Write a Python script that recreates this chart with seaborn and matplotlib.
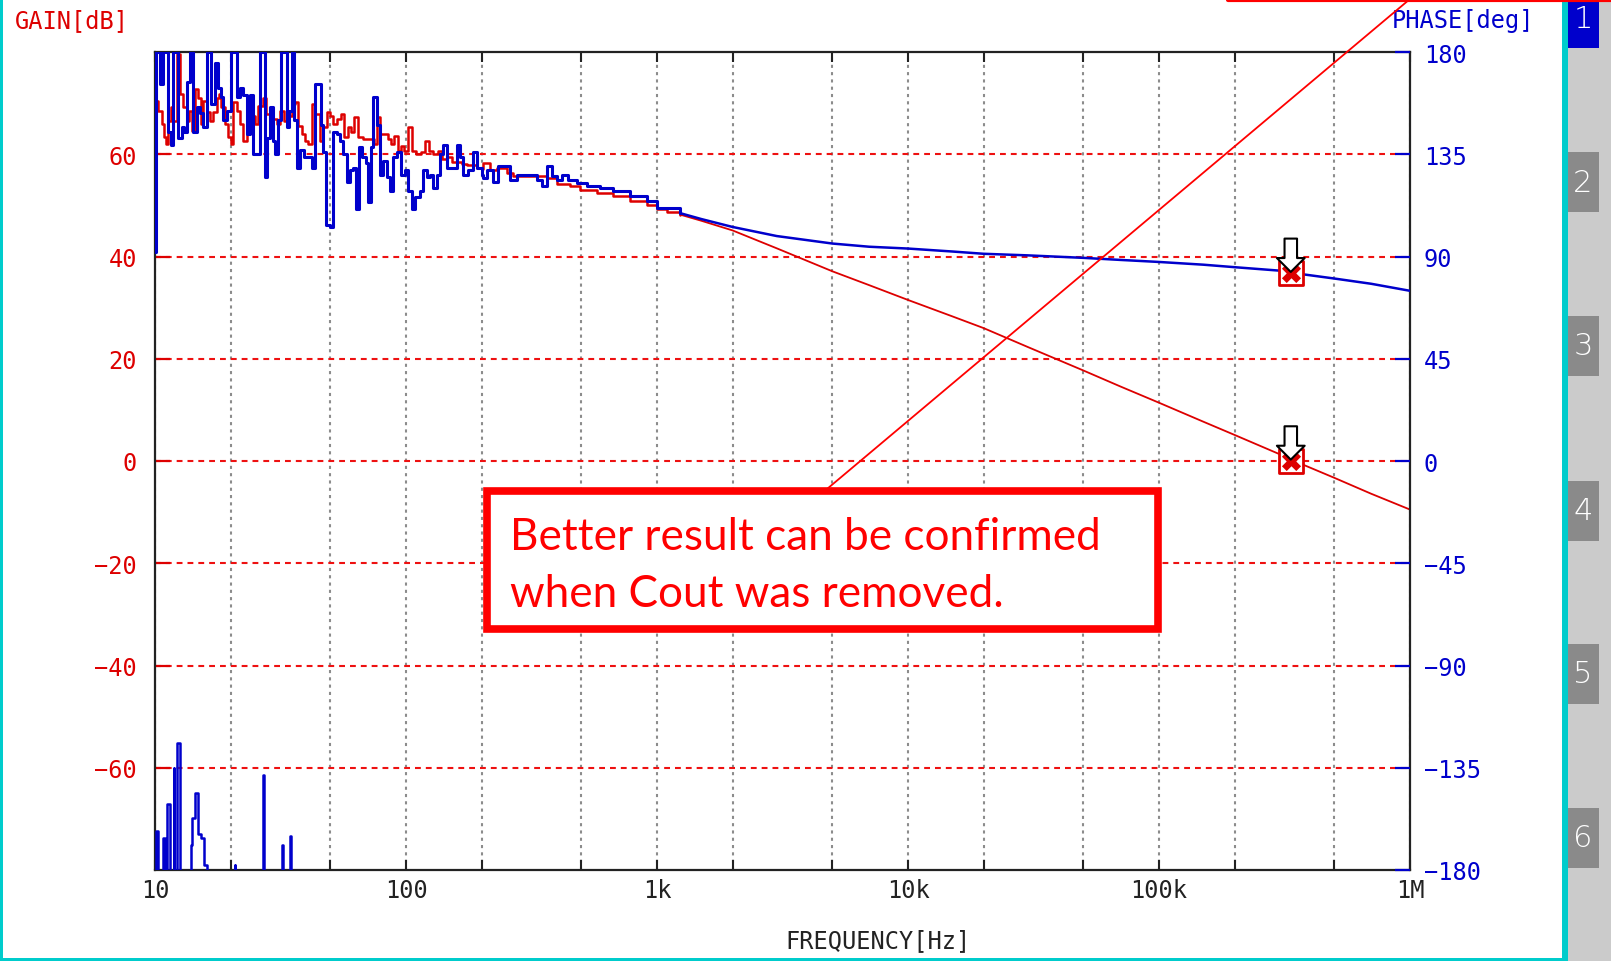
import matplotlib
matplotlib.use("Agg")
import matplotlib.pyplot as plt
from matplotlib.patches import Rectangle
from matplotlib.lines import Line2D
import seaborn as sns

# --- values ---
# gain trace (red, left axis), noisy low-frequency part
gain_freq_lo = [10.0, 10.31, 10.63, 10.86, 11.06, 11.30, 11.55, 11.76, 12.2, 12.58,
                12.97, 13.37, 13.7, 14.0, 14.43, 14.88, 15.2, 15.57, 16.06, 16.55,
                17.07, 17.6, 18.0, 18.4, 19.0, 19.6, 20.0, 20.5, 21.2, 21.8,
                22.5, 23.2, 23.9, 25.0, 25.8, 27.0, 27.8, 28.7, 29.6, 30.5,
                31.6, 32.6, 34.0, 35.0, 36.1, 37.2, 38.4, 39.6, 40.8, 42.1,
                43.4, 45.4, 46.8, 48.3, 49.8, 51.3, 52.9, 55.1, 56.8, 58.5,
                60.4, 62.2, 64.1, 67.5, 71.9, 74.8, 76.6, 79.0, 82.0, 84.5,
                87.1, 89.8, 92.6, 95.5, 98.5, 102.2, 105.4, 109.2, 114.5, 119.1,
                123.5, 128.6, 134.0, 139.0, 145.5, 152.3, 159.3, 166.7, 174.5, 182.7,
                191.3, 200.2, 203.3, 216.1, 229.8, 251.8, 267.7, 311.9, 363.5, 398.5,
                450.2, 493.4, 575.0, 669.9, 780.4, 909.5, 997.0, 1093.0, 1235.0]
gain_db_lo = [70.5, 68.5, 65.9, 63.3, 62.0, 66.6, 69.2, 66.6, 79.6, 71.8,
              69.2, 66.6, 68.5, 64.6, 72.8, 71.1, 65.9, 70.5, 68.2, 66.6,
              68.2, 71.1, 71.8, 69.2, 65.9, 63.3, 62.0, 70.2, 68.5, 65.9,
              62.6, 64.6, 67.5, 65.9, 69.5, 71.1, 67.9, 65.3, 66.9, 65.9,
              68.5, 66.6, 67.5, 69.8, 70.2, 65.6, 64.0, 62.6, 62.0, 69.8,
              67.9, 62.6, 65.3, 68.2, 67.5, 65.9, 66.9, 67.9, 63.3, 65.3,
              64.3, 67.2, 63.3, 63.0, 63.0, 62.0, 67.2, 64.0, 64.0, 63.0,
              62.0, 63.6, 60.7, 61.7, 60.7, 65.3, 60.7, 60.0, 60.4, 62.6,
              60.7, 60.0, 60.7, 59.1, 59.4, 58.4, 58.4, 58.1, 57.8, 57.8,
              57.4, 57.1, 58.3, 57.0, 57.3, 56.3, 55.7, 55.7, 55.4, 54.1,
              53.7, 53.1, 52.4, 51.8, 50.8, 50.1, 49.2, 48.8, 48.2]
# gain trace, smooth part
gain_freq_hi = [1235.0, 1500, 2000, 3000, 5000, 7000, 1e4, 1.5e4, 2e4, 3e4,
                5e4, 7e4, 1e5, 1.5e5, 2e5, 3e5, 3.5e5, 5e5, 7e5, 1e6]
gain_db_hi = [48.2, 47.0, 45.1, 41.6, 37.1, 34.4, 31.5, 28.3, 26.0, 22.3,
              17.7, 14.6, 11.4, 7.7, 5.1, 1.4, -0.1, -3.3, -6.4, -9.5]

# phase trace (blue, right axis), noisy low-frequency part
phase_freq_lo = [10.0, 10.05, 10.31, 10.47, 10.73, 11.06, 11.30, 11.55, 11.76, 12.02,
                 12.39, 12.77, 13.05, 13.45, 13.79, 14.13, 14.66, 15.11, 15.58, 16.16,
                 16.67, 17.34, 17.88, 18.26, 18.72, 19.42, 20.02, 20.64, 21.16, 21.82,
                 22.48, 23.19, 23.91, 24.65, 25.42, 26.20, 26.85, 27.43, 28.03, 28.72,
                 29.44, 30.16, 31.00, 31.67, 32.66, 33.47, 34.30, 35.05, 35.80, 36.68,
                 37.82, 39.24, 40.83, 42.10, 43.41, 44.73, 45.85, 46.84, 47.86, 49.81,
                 51.35, 52.95, 54.60, 56.29, 58.04, 59.85, 61.71, 63.02, 64.97, 66.99,
                 69.07, 70.78, 72.53, 74.10, 76.40, 78.78, 81.23, 83.75, 86.36, 89.03,
                 91.80, 95.52, 99.08, 102.2, 105.3, 108.6, 113.7, 117.3, 120.9, 124.6,
                 128.5, 132.5, 136.6, 140.8, 145.2, 152.0, 159.2, 164.1, 169.2, 177.2,
                 185.5, 191.3, 200.2, 203.3, 209.6, 222.8, 233.3, 248.0, 259.6, 276.0,
                 302.5, 331.6, 347.2, 363.5, 380.6, 398.5, 417.2, 443.5, 478.6, 524.7,
                 592.9, 669.9, 780.4, 909.5, 997.0, 1093.0, 1235.0]
phase_deg_lo = [92, 180, 180, 166, 180, 180, 145, 139, 180, 180,
                142, 147, 145, 167, 180, 145, 156, 153, 147, 180,
                157, 175, 164, 160, 150, 154, 180, 180, 160, 164,
                161, 144, 161, 135, 135, 180, 180, 125, 142, 156,
                141, 135, 150, 180, 180, 147, 154, 180, 150, 129,
                137, 134, 134, 129, 166, 166, 148, 136, 104, 103,
                145, 144, 141, 135, 123, 128, 129, 111, 138, 134,
                131, 114, 138, 160, 148, 126, 132, 125, 119, 134,
                136, 126, 128, 119, 111, 116, 119, 128, 125, 126,
                120, 126, 135, 139, 129, 129, 139, 134, 126, 128,
                136, 129, 126, 124.6, 128.2, 123.0, 129.7, 129.7, 123.8, 126.0,
                126.0, 123.8, 120.9, 129.7, 125.3, 123.8, 126.0, 123.8, 122.4, 120.9,
                120.2, 118.7, 116.5, 114.3, 111.3, 111.3, 109.1]
# phase trace, smooth part
phase_freq_hi = [1235.0, 1500, 2000, 3000, 5000, 7000, 1e4, 1.5e4, 2e4, 3e4,
                 5e4, 7e4, 1e5, 1.5e5, 2e5, 3e5, 3.5e5, 5e5, 7e5, 1e6]
phase_deg_hi = [109.1, 106.5, 103.0, 99.0, 95.7, 94.3, 93.5, 92.2, 91.2, 90.5,
                89.4, 88.5, 87.6, 86.4, 85.3, 83.8, 82.6, 80.3, 78.0, 74.9]

# phase values that wrapped past +180 (shown as spikes from the bottom)
wrap_freq = [10.0, 10.12, 10.25, 10.8, 10.95, 11.15, 11.45, 11.85, 11.95, 12.2,
             12.55, 13.85, 14.05, 14.4, 14.85, 15.3, 15.7, 16.1, 20.8, 20.9,
             26.9, 27.1, 32.2, 32.5, 34.6, 34.9]
wrap_deg = [-190, -163, -190, -166, -190, -151, -190, -135, -190, -124,
            -190, -169, -157, -146, -164, -166, -178, -190, -178, -190,
            -138, -190, -169, -190, -165, -190]

# marker readout
marker_freq = [3.35e5]
marker_gain = [0.0]
marker_phase = [82.6]

x_ticks = [10, 100, 1e3, 1e4, 1e5, 1e6]
x_labels = ["10", "100", "1k", "10k", "100k", "1M"]
x_minor = [20, 50, 200, 500, 2e3, 5e3, 2e4, 5e4, 2e5, 5e5]
gain_ticks = [-60, -40, -20, 0, 20, 40, 60]
phase_ticks = [-180, -135, -90, -45, 0, 45, 90, 135, 180]

RED = "#dd0000"
BLUE = "#0000cc"
W, H = 1611, 962

sns.set_style("white")
plt.rcParams["font.family"] = ["DejaVu Sans Mono"]


def fx(x):
    return x / W


def fy(y):
    return 1 - y / H


fig = plt.figure(figsize=(W / 100, H / 100), dpi=100)
ax = fig.add_axes([fx(155), fy(871), (1410 - 155) / W, (871 - 53) / H])
ax.set_xscale("log")
ax.set_xlim(10, 1e6)
ax.set_ylim(-80, 80)
ax2 = ax.twinx()
ax2.set_ylim(-180, 180)

# traces
sns.lineplot(x=gain_freq_lo, y=gain_db_lo, ax=ax, color=RED, linewidth=1.8,
             estimator=None, sort=False, drawstyle="steps-post")
sns.lineplot(x=gain_freq_hi, y=gain_db_hi, ax=ax, color=RED, linewidth=1.3,
             estimator=None, sort=False)
sns.lineplot(x=phase_freq_lo, y=phase_deg_lo, ax=ax2, color=BLUE, linewidth=2.2,
             estimator=None, sort=False, drawstyle="steps-post")
sns.lineplot(x=phase_freq_hi, y=phase_deg_hi, ax=ax2, color=BLUE, linewidth=1.8,
             estimator=None, sort=False)
sns.lineplot(x=wrap_freq, y=wrap_deg, ax=ax2, color=BLUE, linewidth=1.8,
             estimator=None, sort=False, drawstyle="steps-post")

# markers with arrows
for axis, vals in [(ax, marker_gain), (ax2, marker_phase)]:
    sns.scatterplot(x=marker_freq, y=vals, ax=axis, marker="s", s=300,
                    color="white", edgecolor=RED, linewidth=2, zorder=5)
    sns.scatterplot(x=marker_freq, y=vals, ax=axis, marker="X", s=190,
                    color=RED, edgecolor=RED, linewidth=0, zorder=6)
    axis.annotate("", xy=(marker_freq[0], vals[0]), xytext=(0, 25),
                  textcoords="offset points", zorder=7,
                  arrowprops=dict(arrowstyle="simple,head_length=0.5,head_width=1.0,tail_width=0.45",
                                  fc="white", ec="black", lw=1.5, mutation_scale=20,
                                  shrinkA=0, shrinkB=1))

# axes styling
ax.set_xticks(x_ticks)
ax.set_xticklabels(x_labels)
ax.set_xticks(x_minor, minor=True)
ax.set_yticks(gain_ticks)
ax.tick_params(axis="x", which="both", direction="in", length=7, width=1.5,
               color="#222222", top=True, bottom=True, labelsize=17, pad=6,
               labelcolor="#222222")
ax.tick_params(axis="y", direction="in", length=11, width=1.6, colors=RED,
               labelsize=17, pad=13)
ax.grid(axis="x", which="both", color="#8c8c8c", linestyle=(0, (1.5, 2)), linewidth=1.5)
ax.grid(axis="y", which="major", color="#ee1111", linestyle=(0, (2.8, 2.4)), linewidth=1.5)
ax.set_xlabel("")
ax.set_ylabel("")
for sp in ax.spines.values():
    sp.set_color("#222222")
    sp.set_linewidth(1.6)

ax2.set_yticks(phase_ticks)
ax2.tick_params(axis="y", direction="in", length=11, width=1.6, colors=BLUE,
                labelsize=17, pad=10)
ax2.set_xlabel("")
ax2.set_ylabel("")
for sp in ax2.spines.values():
    sp.set_visible(False)

fig.text(fx(15), fy(21), "GAIN[dB]", color=RED, fontsize=17, va="center", ha="left")
fig.text(fx(1392), fy(21), "PHASE[deg]", color=BLUE, fontsize=17, va="center", ha="left")
fig.text(fx(878), fy(941), "FREQUENCY[Hz]", color="#222222", fontsize=17,
         va="center", ha="center")

# screen frame: cyan borders and the tab panel on the right
fig.add_artist(Rectangle((fx(1568), 0), (W - 1568) / W, 1, transform=fig.transFigure,
                         fc="#cbcbcb", ec="none", zorder=1))
fig.add_artist(Rectangle((fx(1562), 0), 6 / W, 1, transform=fig.transFigure,
                         fc="#00cccc", ec="none", zorder=1))
fig.add_artist(Rectangle((0, 0), 3 / W, 1, transform=fig.transFigure,
                         fc="#00cccc", ec="none", zorder=1))
fig.add_artist(Rectangle((0, 0), 1562 / W, 3 / H, transform=fig.transFigure,
                         fc="#00cccc", ec="none", zorder=1))
tabs = [("1", -11, 49, BLUE), ("2", 153, 213, "#8a8a8a"), ("3", 317, 377, "#8a8a8a"),
        ("4", 482, 542, "#8a8a8a"), ("5", 645, 705, "#8a8a8a"), ("6", 809, 869, "#8a8a8a")]
for label, y0, y1, col in tabs:
    fig.add_artist(Rectangle((fx(1568), fy(y1)), 31 / W, (y1 - y0) / H,
                             transform=fig.transFigure, fc=col, ec="none", zorder=2))
    yc = (y0 + y1) / 2 if label != "1" else 19
    fig.text(fx(1583), fy(yc), label, color="white", fontsize=22, ha="center",
             va="center", family="DejaVu Sans", fontweight="light", zorder=3)

# call-out
fig.add_artist(Line2D([fx(827), fx(1410)], [fy(490), 1.0], transform=fig.transFigure,
                      color="#ff0000", linewidth=1.3, zorder=9))
fig.add_artist(Line2D([fx(1228), 1.0], [fy(1), fy(1)], transform=fig.transFigure,
                      color="#ff0000", linewidth=3, solid_capstyle="round", zorder=9))
fig.add_artist(Rectangle((fx(487), fy(630)), (1158 - 487) / W, (630 - 492) / H,
                         transform=fig.transFigure, fc="white", ec="#ff0000",
                         linewidth=5.5, joinstyle="miter", zorder=10))
fig.text(fx(510), fy(566), "Better result can be confirmed\nwhen Cout was removed.",
         color="#ff0000", fontsize=31.8, family="Lato", ha="left", va="center",
         linespacing=1.5, zorder=11)

fig.savefig("out.png", dpi=100)
